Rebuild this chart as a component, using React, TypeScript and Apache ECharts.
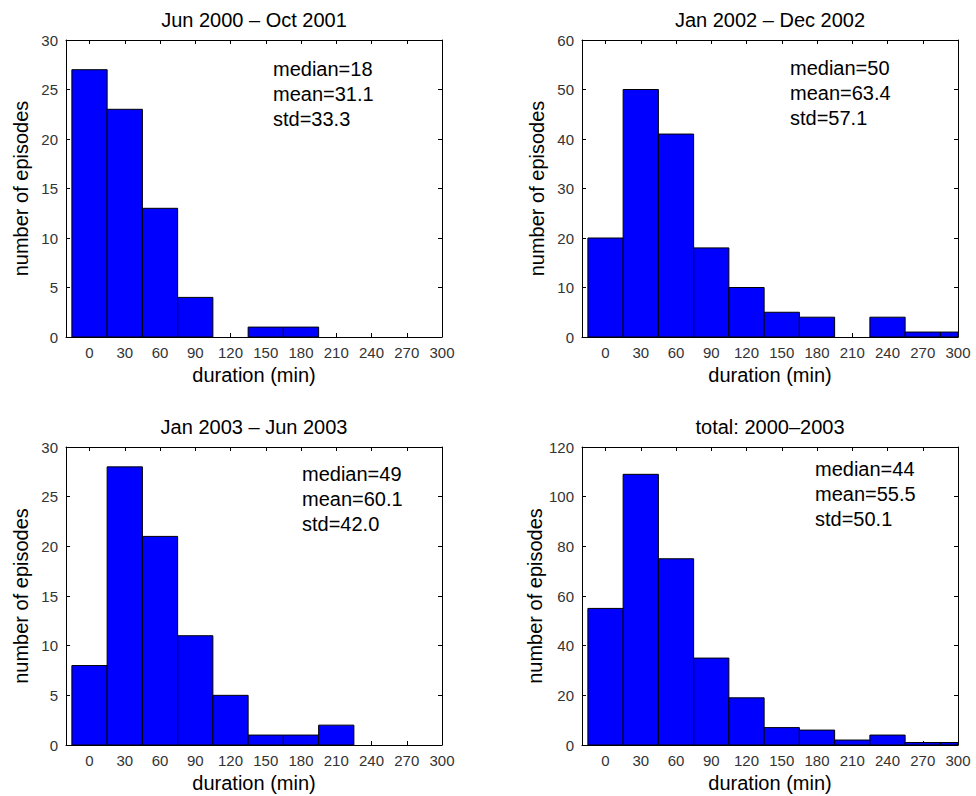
import React, { useEffect, useRef } from "react";
import * as echarts from "echarts";

const binCenters = [0, 30, 60, 90, 120, 150, 180, 210, 240, 270, 300];
const xTicks = [0, 30, 60, 90, 120, 150, 180, 210, 240, 270, 300];

const titles = ["Jun 2000 \u2013 Oct 2001", "Jan 2002 \u2013 Dec 2002", "Jan 2003 \u2013 Jun 2003", "total: 2000\u20132003"];

const counts2000 = [27, 23, 13, 4, 0, 1, 1, 0, 0, 0, 0];
const counts2002 = [20, 50, 41, 18, 10, 5, 4, 0, 4, 1, 1];
const counts2003 = [8, 28, 21, 11, 5, 1, 1, 2, 0, 0, 0];
const countsTotal = [55, 109, 75, 35, 19, 7, 6, 2, 4, 1, 1];

const yMax = [30, 60, 30, 120];
const yStep = [5, 10, 5, 20];

const statsLines = [
  ["median=18", "mean=31.1", "std=33.3"],
  ["median=50", "mean=63.4", "std=57.1"],
  ["median=49", "mean=60.1", "std=42.0"],
  ["median=44", "mean=55.5", "std=50.1"],
];

const allCounts = [counts2000, counts2002, counts2003, countsTotal];

const FONT = "'Liberation Sans', Arial, Helvetica, sans-serif";

const grids = [
  { left: 66, top: 40, width: 376, height: 297 },
  { left: 582, top: 40, width: 376, height: 297 },
  { left: 66, top: 447, width: 376, height: 298 },
  { left: 582, top: 447, width: 376, height: 298 },
];
const statsPos = [
  { dx: 207, dy: 28 },
  { dx: 208, dy: 27 },
  { dx: 236, dy: 26 },
  { dx: 233, dy: 21 },
];

export default function App() {
  const ref = useRef<HTMLDivElement>(null);
  useEffect(() => {
    if (!ref.current) return;
    const chart = echarts.init(ref.current, null, { renderer: "svg" });
    const xAxes: any[] = [];
    const yAxes: any[] = [];
    const series: any[] = [];
    const graphics: any[] = [];
    const binW = 30;
    const axisLine = { show: true, onZero: false, lineStyle: { color: "#000", width: 1 } };
    for (let i = 0; i < 4; i++) {
      xAxes.push({
        type: "value",
        gridIndex: i,
        min: -20,
        max: 300,
        position: "bottom",
        axisLine,
        splitLine: { show: false },
        axisTick: { show: true, inside: true, length: 4, lineStyle: { color: "#000" }, customValues: xTicks },
        axisLabel: { show: true, customValues: xTicks, color: "#333", fontSize: 15, fontFamily: FONT, margin: 8 },
        name: "duration (min)",
        nameLocation: "middle",
        nameGap: 28,
        nameTextStyle: { fontSize: 20, color: "#000", fontFamily: FONT },
      });
      yAxes.push({
        type: "value",
        gridIndex: i,
        min: 0,
        max: yMax[i],
        interval: yStep[i],
        position: "left",
        axisLine,
        splitLine: { show: false },
        axisTick: { show: true, inside: true, length: 4, lineStyle: { color: "#000" } },
        axisLabel: { show: true, color: "#333", fontSize: 15, fontFamily: FONT, margin: 8 },
        name: "number of episodes",
        nameLocation: "middle",
        nameGap: 35,
        nameTextStyle: { fontSize: 20, color: "#000", fontFamily: FONT },
      });
      series.push({
        type: "custom",
        xAxisIndex: i,
        yAxisIndex: i,
        data: binCenters.map((c, k) => [c, allCounts[i][k]]),
        renderItem: (params: any, api: any) => {
          const c = api.value(0);
          const v = api.value(1);
          if (!v) return null;
          const p0 = api.coord([c - binW / 2, v]);
          const p1 = api.coord([c + binW / 2, 0]);
          const rect = echarts.graphic.clipRectByRect(
            { x: p0[0], y: p0[1], width: p1[0] - p0[0], height: p1[1] - p0[1] },
            params.coordSys
          );
          if (!rect) return null;
          return {
            type: "rect",
            shape: rect,
            style: { fill: "#0000ff", stroke: "#000", lineWidth: 1 },
          };
        },
      });
      const g = grids[i];
      graphics.push({
        type: "text",
        x: g.left + g.width / 2,
        y: g.top - 20,
        style: { text: titles[i], align: "center", verticalAlign: "middle", fontSize: 20, fontFamily: FONT, fill: "#000" },
      });
      graphics.push({
        type: "text",
        x: g.left + statsPos[i].dx,
        y: g.top + statsPos[i].dy - 12,
        style: {
          text: statsLines[i].join("\n"),
          align: "left",
          verticalAlign: "top",
          fontSize: 20,
          lineHeight: 25,
          fontFamily: FONT,
          fill: "#000",
        },
      });
    }
    // mirrored axes (box ticks)
    for (let i = 0; i < 4; i++) {
      xAxes.push({
        type: "value",
        gridIndex: i,
        min: -20,
        max: 300,
        position: "top",
        axisLine,
        splitLine: { show: false },
        axisTick: { show: true, inside: true, length: 4, lineStyle: { color: "#000" }, customValues: xTicks },
        axisLabel: { show: false },
      });
      yAxes.push({
        type: "value",
        gridIndex: i,
        min: 0,
        max: yMax[i],
        interval: yStep[i],
        position: "right",
        axisLine,
        splitLine: { show: false },
        axisTick: { show: true, inside: true, length: 4, lineStyle: { color: "#000" } },
        axisLabel: { show: false },
      });
    }
    chart.setOption({
      animation: false,
      backgroundColor: "#fff",
      grid: grids.map((g) => ({ ...g, containLabel: false })),
      xAxis: xAxes,
      yAxis: yAxes,
      series,
      graphic: graphics,
    });
    return () => chart.dispose();
  }, []);
  return (
    <div
      ref={ref}
      style={{ position: "fixed", left: 0, top: 0, width: 976, height: 796, background: "#fff" }}
    />
  );
}
